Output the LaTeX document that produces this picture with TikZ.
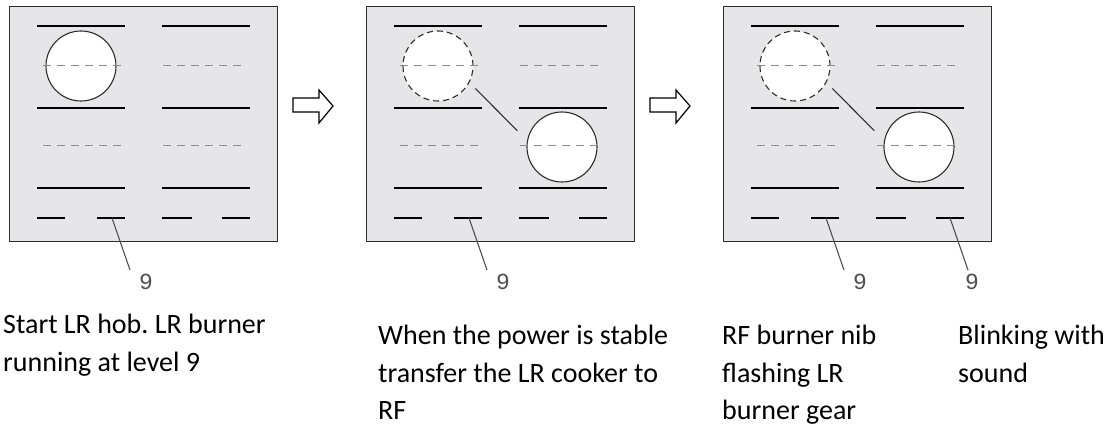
\documentclass[tikz,border=0pt]{standalone}
\usepackage{fontspec}
\setmainfont{Carlito}
\newfontfamily\digitfont{Liberation Mono}
\frenchspacing
\usetikzlibrary{positioning}
\definecolor{hobgray}{RGB}{230,230,232}
\definecolor{edgegray}{RGB}{45,45,45}
\definecolor{dashgray}{RGB}{140,140,140}
\definecolor{digitgray}{RGB}{80,80,80}

\begin{document}
\begin{tikzpicture}[x=1pt, y=1pt,
  hob/.style={draw=edgegray, fill=hobgray, line width=1.4pt, inner sep=0pt, minimum width=268pt, minimum height=235pt},
  bar/.style={draw=black, line width=1.3pt},
  midline/.style={draw=dashgray, line width=1pt, dash pattern=on 8pt off 6pt},
  zone/.style={circle, draw=edgegray, fill=white, line width=1.1pt, minimum size=70pt, inner sep=0pt},
  ghost/.style={zone, dash pattern=on 6pt off 4pt},
  leader/.style={draw=digitgray, line width=1.1pt},
  digit/.style={text=digitgray, font=\digitfont\fontsize{23}{23}\selectfont, inner sep=0pt},
  caption/.style={anchor=north west, align=left, inner sep=0pt, font=\fontsize{28}{37.5}\selectfont},
  blockarrow/.style={draw=black, fill=white, line width=1.2pt, line join=miter}]
\useasboundingbox (0,0) rectangle (1120,437);

\foreach \p/\dx in {1/0, 2/357, 3/714} {
  \begin{scope}[xshift=\dx]
    \node[hob, anchor=south west] (hob\p) at (9,195) {};
    \foreach \y in {411, 329, 249}
      \draw[bar] (37,\y) -- (125,\y) (162,\y) -- (250,\y);
    \draw[bar] (37,219) -- (65,219) (97,219) -- (125,219) (162,219) -- (192,219) (222,219) -- (250,219);
    \ifnum\p=1
      \node[zone] (lr\p) at (81,371) {};
    \else
      \node[ghost] (lr\p) at (81,371) {};
      \node[zone] (rf\p) at (205,290) {};
    \fi
    \foreach \y in {371, 291}
      \draw[midline] (43,\y) -- (123,\y) (163,\y) -- (243,\y);
    \ifnum\p>1
      \draw[draw=edgegray, line width=1.1pt] ([shift={(-31:8pt)}]lr\p.-31) -- ([shift={(160:12pt)}]rf\p.160);
    \fi
    \coordinate (tickL\p) at (112,219);
    \coordinate (footL\p) at (130,167);
    \node[digit] (lvlL\p) at (146,155) {9};
    \draw[leader] (tickL\p) -- (footL\p);
    \ifnum\p=3
      \coordinate (tickR\p) at (236,219);
      \coordinate (footR\p) at (254,167);
      \node[digit] (lvlR\p) at (258,155) {9};
      \draw[leader] (tickR\p) -- (footR\p);
    \fi
  \end{scope}
}

\foreach \ax in {293, 650}
  \draw[blockarrow] (\ax,339) -- ++(26,0) -- ++(0,8) -- ++(14,-16) -- ++(-14,-17) -- ++(0,11) -- ++(-26,0) -- cycle;

\node[caption] (capA) at (3,123) {Start LR hob. LR burner\\running at level 9};
\node[caption] (capB) at (378,112) {When the power is stable\\transfer the LR cooker to\\RF};
\node[caption] (capC) at (722,112) {RF burner nib\\flashing LR\\burner gear};
\node[caption] (capD) at (958,112) {Blinking with\\sound};
\end{tikzpicture}
\end{document}
